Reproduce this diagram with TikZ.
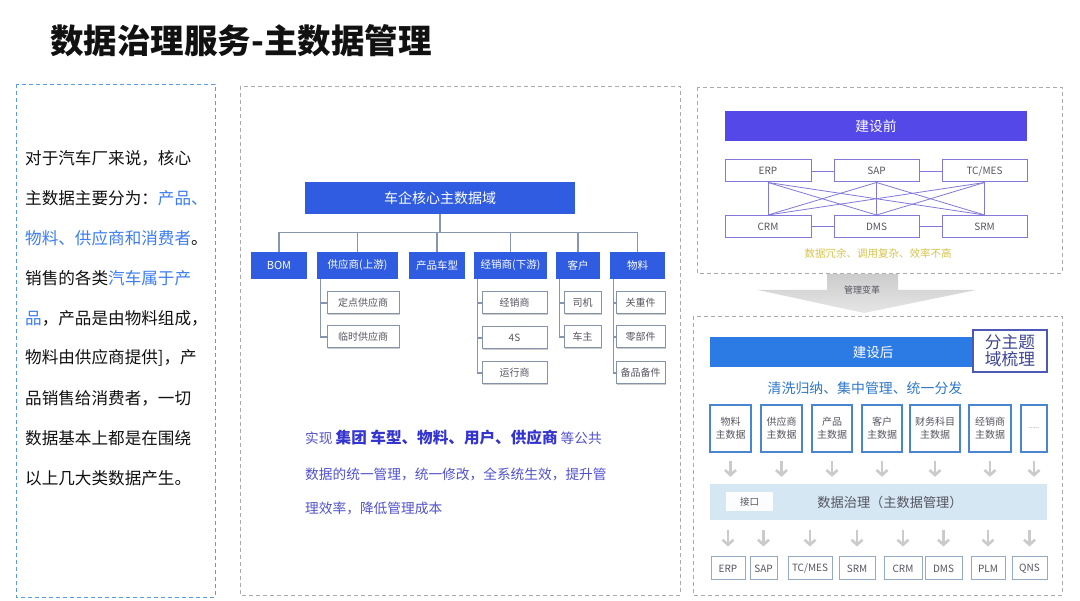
\documentclass[tikz,border=0pt]{standalone}
\usepackage{fontspec}
\setmainfont{Noto Sans CJK SC}
\usepackage{tikz}
\usetikzlibrary{arrows.meta,positioning,calc,shadows}
\definecolor{titleblack}{HTML}{111111}
\definecolor{leftblue}{HTML}{3C7DF0}
\definecolor{leftframe}{HTML}{5B9BE6}
\definecolor{framegray}{HTML}{A9A9B0}
\definecolor{treeblue}{HTML}{2F5CE0}
\definecolor{treeline}{HTML}{8796B0}
\definecolor{subline}{HTML}{8593AC}
\definecolor{noteblue}{HTML}{5252CC}
\definecolor{notebold}{HTML}{3434CF}
\definecolor{prepurple}{HTML}{5448E8}
\definecolor{meshpurple}{HTML}{8178DA}
\definecolor{warnyellow}{HTML}{D6C44C}
\definecolor{postblue}{HTML}{2C7BE5}
\definecolor{topicline}{HTML}{4E58B8}
\definecolor{washblue}{HTML}{2F78C9}
\definecolor{mdline}{HTML}{4A86D0}
\definecolor{govfill}{HTML}{D4E7F2}
\definecolor{sysline}{HTML}{93AAC2}
\definecolor{softgray}{HTML}{CBCBCB}
\definecolor{textgray}{HTML}{555560}

\begin{document}
\begin{tikzpicture}[x=1pt, y=-1pt,
  every node/.style={inner sep=0pt},
  frame/.style={draw=framegray, dash pattern=on 4pt off 3pt, line width=0.9pt},
  line/.style={anchor=west, font=\fontsize{16.6}{20}\selectfont, text=titleblack},
  head/.style={fill=treeblue, text=white, minimum height=27pt, font=\fontsize{10.5}{12}\selectfont},
  sub/.style={draw=subline, fill=white, line width=1pt, minimum height=22pt, text=textgray,
    font=\fontsize{10}{12}\selectfont, drop shadow={shadow xshift=1.2pt, shadow yshift=-1.2pt, fill=black!40, opacity=0.5}},
  tline/.style={draw=treeline, line width=1.2pt},
  sysbox/.style={draw=meshpurple, line width=1pt, minimum height=22pt, text=textgray, font=\fontsize{10}{12}\selectfont},
  mesh/.style={draw=meshpurple, line width=0.8pt},
  mdbox/.style={draw=mdline, fill=white, line width=1.1pt, minimum height=47pt, align=center, text=textgray,
    font=\fontsize{10}{13}\selectfont, drop shadow={shadow xshift=1pt, shadow yshift=-1pt, fill=black!30, opacity=0.4}},
  outbox/.style={draw=sysline, line width=1pt, minimum height=23pt, text=textgray, font=\fontsize{10}{12}\selectfont},
  garrow/.style={draw=softgray, line width=2.6pt, -{Straight Barb[length=5pt, width=11pt]}}
]
\useasboundingbox (0,0) rectangle (1080,601);
\fill[white] (0,0) rectangle (1080,601);

% title
\node[anchor=west, font=\bfseries\fontsize{33.5}{36}\selectfont, text=titleblack] (title) at (50,41) {数据治理服务-主数据管理};

% left column
\draw[frame, draw=leftframe, dash pattern=on 4pt off 3pt] (16,84) rectangle (215,597);
\node[line] (l1) at (25,158) {对于汽车厂来说，核心};
\node[line] (l2) at (25,198) {主数据主要分为：\textcolor{leftblue}{产品、}};
\node[line] (l3) at (25,238) {\textcolor{leftblue}{物料、供应商和消费者}。};
\node[line] (l4) at (25,278) {销售的各类\textcolor{leftblue}{汽车属于产}};
\node[line] (l5) at (25,318) {\textcolor{leftblue}{品}，产品是由物料组成，};
\node[line] (l6) at (25,358) {物料由供应商提供]，产};
\node[line] (l7) at (25,398) {品销售给消费者，一切};
\node[line] (l8) at (25,438) {数据基本上都是在围绕};
\node[line] (l9) at (25,478) {以上几大类数据产生。};

% core domain tree
\draw[frame] (240,86) rectangle (680,595);
\node[fill=treeblue, text=white, minimum width=270pt, minimum height=32pt, font=\fontsize{14}{16}\selectfont] (root) at (440,198) {车企核心主数据域};
\node[head, minimum width=56pt, font=\fontsize{11}{12}\selectfont] (bom) at (279,265.5) {BOM};
\node[head, minimum width=81pt] (sup) at (357.5,265.5) {供应商(上游)};
\node[head, minimum width=56pt] (car) at (437,265.5) {产品车型};
\node[head, minimum width=73pt] (dea) at (510.5,265.5) {经销商(下游)};
\node[head, minimum width=44pt] (cus) at (578,265.5) {客户};
\node[head, minimum width=55pt] (mat) at (637.5,265.5) {物料};

\node[sub, minimum width=72pt] (sup1) at (363,303) {定点供应商};
\node[sub, minimum width=72pt] (sup2) at (363,337) {临时供应商};
\node[sub, minimum width=65pt] (dea1) at (514.5,303) {经销商};
\node[sub, minimum width=65pt] (dea2) at (514.5,338) {4S};
\node[sub, minimum width=65pt] (dea3) at (514.5,373) {运行商};
\node[sub, minimum width=37pt] (cus1) at (582.5,303) {司机};
\node[sub, minimum width=37pt] (cus2) at (582.5,337) {车主};
\node[sub, minimum width=49pt] (mat1) at (640.5,303) {关重件};
\node[sub, minimum width=49pt] (mat2) at (640.5,337) {零部件};
\node[sub, minimum width=49pt] (mat3) at (640.5,373) {备品备件};

\coordinate (bus) at ($(root.south)+(0,18)$);
\draw[tline] (root.south) -- (bus);
\draw[tline] (bus -| bom.north) -- (bus -| mat.north);
\foreach \n in {bom,sup,car,dea,cus,mat}
  \draw[tline] (bus -| \n.north) -- (\n.north);
\foreach \p/\c in {sup/sup1,sup/sup2,dea/dea1,dea/dea2,dea/dea3,cus/cus1,cus/cus2,mat/mat1,mat/mat2,mat/mat3}
  \draw[tline] ([xshift=4pt]\p.south west) |- (\c.west);

\node[anchor=west, text=noteblue, font=\fontsize{13.7}{16}\selectfont] (note1) at (305,438)
  {实现 {\bfseries\color{notebold}\fontsize{15.6}{18}\selectfont 集团 车型、物料、用户、供应商} 等公共};
\node[anchor=west, text=noteblue, font=\fontsize{13.7}{16}\selectfont] (note2) at (305,474) {数据的统一管理，统一修改，全系统生效，提升管};
\node[anchor=west, text=noteblue, font=\fontsize{13.7}{16}\selectfont] (note3) at (305,508) {理效率，降低管理成本};

% before
\draw[frame] (697,87) rectangle (1062,273);
\node[fill=prepurple, text=white, minimum width=302pt, minimum height=30pt, font=\fontsize{13.7}{16}\selectfont] (pre) at (876,126) {建设前};
\node[sysbox, minimum width=86pt] (perp) at (768,171) {ERP};
\node[sysbox, minimum width=85pt] (psap) at (876.5,171) {SAP};
\node[sysbox, minimum width=85pt] (ptcm) at (984.5,171) {TC/MES};
\node[sysbox, minimum width=86pt] (pcrm) at (768,226.5) {CRM};
\node[sysbox, minimum width=85pt] (pdms) at (876.5,226.5) {DMS};
\node[sysbox, minimum width=85pt] (psrm) at (984.5,226.5) {SRM};
\draw[mesh] (perp) -- (psap);
\draw[mesh] (psap) -- (ptcm);
\draw[mesh] (pcrm) -- (pdms);
\draw[mesh] (pdms) -- (psrm);
\foreach \a in {perp,psap,ptcm}
  \foreach \b in {pcrm,pdms,psrm}
    \draw[mesh] (\a.south) -- (\b.north);
\node[text=warnyellow, font=\fontsize{10.5}{12}\selectfont] (pain) at (878,253) {数据冗余、调用复杂、效率不高};

% change arrow
\shade[top color=black!20, bottom color=black!10] (827,274) -- (898,274) -- (898,290) -- (976,290)
  -- (864,313) -- (758,290) -- (827,290) -- cycle;
\node[text=textgray, font=\fontsize{9}{10}\selectfont] (change) at (862,290) {管理变革};

% after
\draw[frame] (693,316) rectangle (1062,595);
\node[fill=postblue, text=white, minimum width=330pt, minimum height=30pt, font=\fontsize{13.5}{16}\selectfont] (post) at (875,352) {\hspace*{-4pt}建设后};
\node[draw=topicline, fill=white, line width=1.2pt, minimum width=74pt, minimum height=42pt, align=center,
  text=topicline!80!black, font=\fontsize{16.7}{17}\selectfont] (topic) at (1010,351) {分主题\\域梳理};
\node[text=washblue, font=\fontsize{13.9}{16}\selectfont] (wash) at (865,388) {清洗归纳、集中管理、统一分发};

\node[mdbox, minimum width=41pt] (md1) at (730.5,428.5) {物料\\主数据};
\node[mdbox, minimum width=41pt] (md2) at (781.5,428.5) {供应商\\主数据};
\node[mdbox, minimum width=40pt] (md3) at (832,428.5) {产品\\主数据};
\node[mdbox, minimum width=40pt] (md4) at (882,428.5) {客户\\主数据};
\node[mdbox, minimum width=50pt] (md5) at (935,428.5) {财务科目\\主数据};
\node[mdbox, minimum width=42pt] (md6) at (990,428.5) {经销商\\主数据};
\node[mdbox, minimum width=26pt, font=\fontsize{6}{8}\selectfont] (md7) at (1034,428.5) {......};

\node[fill=govfill, minimum width=337pt, minimum height=36pt] (gov) at (878.5,502) {};
\node[text=textgray, font=\fontsize{13.2}{16}\selectfont] (govtext) at (890,502) {数据治理（主数据管理）};
\node[fill=white!92!govfill, minimum width=47pt, minimum height=19pt, text=textgray, font=\fontsize{9.5}{11}\selectfont] (port) at (749.5,501.5) {接口};

\node[outbox, minimum width=34pt] (nerp) at (728,568.5) {ERP};
\node[outbox, minimum width=27pt] (nsap) at (763.5,568.5) {SAP};
\node[outbox, minimum width=44pt] (ntcm) at (810,568.5) {TC/MES};
\node[outbox, minimum width=36pt] (nsrm) at (857,568.5) {SRM};
\node[outbox, minimum width=38pt] (ncrm) at (903,568.5) {CRM};
\node[outbox, minimum width=37pt] (ndms) at (943.5,568.5) {DMS};
\node[outbox, minimum width=34pt] (nplm) at (988,568.5) {PLM};
\node[outbox, minimum width=35pt] (nqns) at (1029.5,568.5) {QNS};

\foreach \n in {md1,md2,md3,md4,md5,md6,md7}
  \draw[garrow] ($(\n.south)+(0,8)$) -- ($(\n.south |- gov.north)+(0,-7)$);
\foreach \n in {nerp,nsap,ntcm,nsrm,ncrm,ndms,nplm,nqns}
  \draw[garrow] ($(\n.north |- gov.south)+(0,10)$) -- ($(\n.north)+(0,-10)$);
\end{tikzpicture}
\end{document}
